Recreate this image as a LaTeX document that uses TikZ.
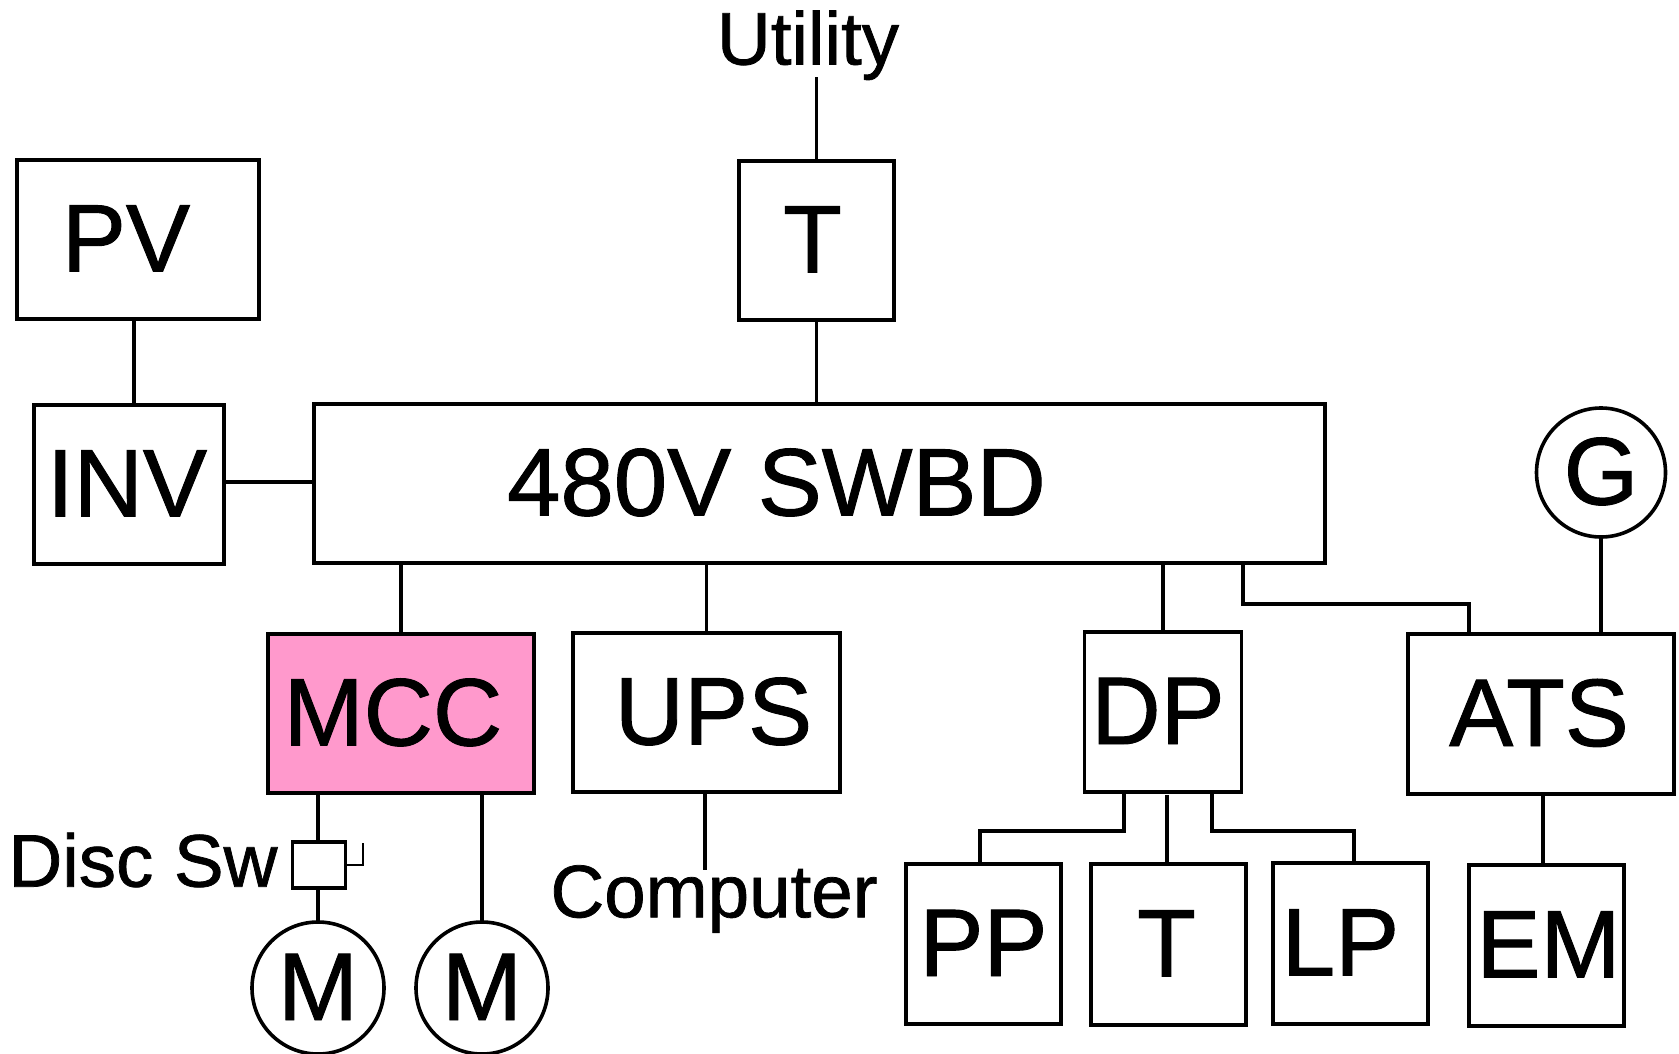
\documentclass[tikz,border=0pt]{standalone}
\usepackage{fontspec}
\setmainfont{Liberation Sans}[FakeBold=1]
\definecolor{mccpink}{HTML}{FF99CC}
\newcommand{\nudge}[1]{\kern#1pt\relax}
\tikzset{
  block/.style 2 args={draw, line width=3.6pt, inner sep=0pt, outer sep=0pt,
    minimum width=#1pt, minimum height=#2pt, text height=69pt, text depth=5pt,
    font=\fontsize{96}{96}\selectfont},
  motor/.style={draw, circle, line width=3.6pt, inner sep=0pt, outer sep=0pt,
    minimum size=132pt, text height=69pt, text depth=5pt,
    font=\fontsize{96}{96}\selectfont},
  caption/.style={inner sep=0pt, outer sep=0pt, font=\fontsize{74.5}{75}\selectfont},
  wire/.style={line width=3.6pt}
}
\begin{document}
\begin{tikzpicture}[x=1pt,y=-1pt]
      \useasboundingbox (0,0) rectangle (1679,1054);
      \node[caption, anchor=south] (utility) at (808,80) {Utility};
      \node[block={242}{159}] (pv) at (138,239.5) {\nudge{-24}PV};
      \node[block={155}{159}] (top) at (816.5,240.5) {\nudge{-8}T};
      \node[block={190}{159}] (inv) at (129,484.5) {\nudge{-4}INV};
      \node[block={1011}{159}] (swbd) at (819.5,483.5) {\nudge{-86}480V SWBD};
      \node[motor, minimum size=129pt] (gen) at (1601,472.5) {G};
      \node[block={266}{159}, fill=mccpink] (mcc) at (401,713.5) {\nudge{-16}MCC};
      \node[block={267}{159}] (ups) at (706.5,712.5) {\nudge{14}UPS};
      \node[block={157}{160}] (dp) at (1163,712) {\nudge{-10}DP};
      \node[block={266}{160}] (ats) at (1541,714) {\nudge{-4}ATS};
      \node[block={155}{160}] (pp) at (983.5,944) {PP};
      \node[block={155}{161}] (tx) at (1168.5,944.5) {\nudge{-4}T};
      \node[block={155}{161}] (lp) at (1350.5,943.5) {\nudge{-20}LP};
      \node[block={155}{161}] (em) at (1546.5,945.5) {\nudge{4}EM};
      \node[caption] (disclabel) at (143,860) {Disc Sw};
      \node[draw, line width=3.6pt, inner sep=0pt, outer sep=0pt,
        minimum width=53pt, minimum height=46pt] (disc) at (319,865) {};
      \node[motor] (m1) at (318,988) {M};
      \node[motor] (m2) at (482,988) {M};
      \node[caption] (computer) at (714,899) {Computer};
      \coordinate (stub) at (363,843);
      \begin{scope}[wire]
        \draw[shorten >=-3pt] (top.north) -- (top.north |- utility.south);
        \draw (top.south) -- (top.south |- swbd.north);
        \draw (134,0 |- pv.south) -- (134,0 |- inv.north);
        \draw (inv.east |- 0,482) -- (swbd.west |- 0,482);
        \draw (mcc.north) -- (mcc.north |- swbd.south);
        \draw (ups.north) -- (ups.north |- swbd.south);
        \draw (dp.north) -- (dp.north |- swbd.south);
        \draw (1243,0 |- swbd.south) |- (1469,604) -- (1469,0 |- ats.north);
        \draw (gen.south) -- (gen.south |- ats.north);
        \draw (1543,0 |- ats.south) -- (1543,0 |- em.north);
        \draw (1167,795) -- (1167,0 |- tx.north);
        \draw (1124,0 |- dp.south) |- (980,831) -- (980,0 |- pp.north);
        \draw (1212,0 |- dp.south) |- (1354,831) -- (1354,0 |- lp.north);
        \draw[shorten >=-5pt] (705,0 |- ups.south) -- (705,0 |- computer.north);
        \draw (m1.north |- mcc.south) -- (m1.north |- disc.north);
        \draw (m1.north |- disc.south) -- (m1.north);
        \draw (m2.north |- mcc.south) -- (m2.north);
      \end{scope}
      \draw[line width=1.2pt] (disc.east) -| (stub);
    \end{tikzpicture}
\end{document}
